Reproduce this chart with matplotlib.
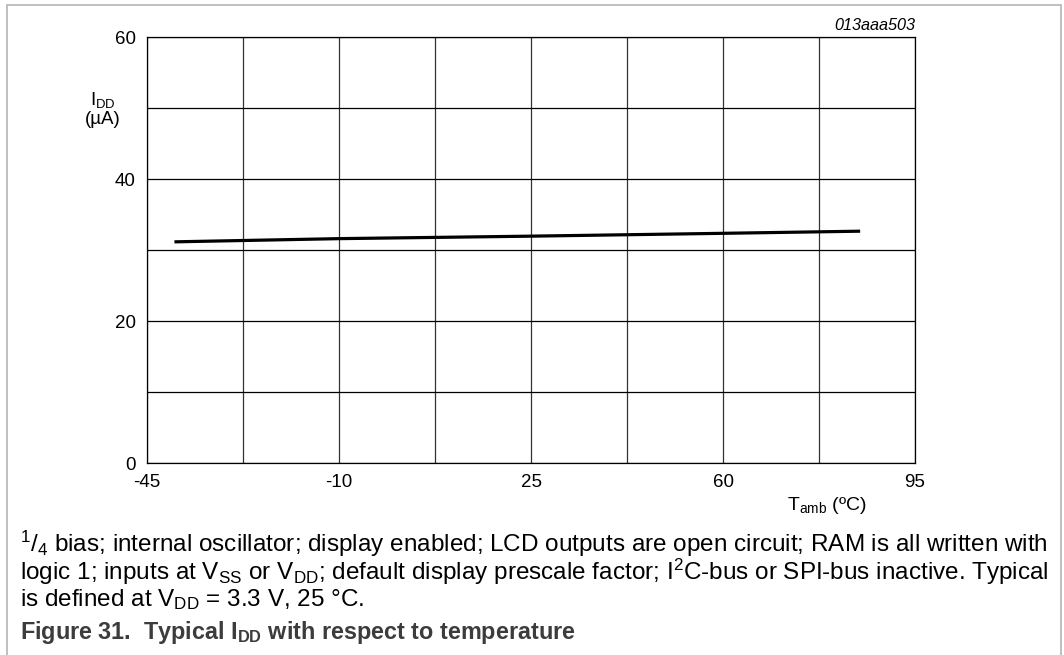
import matplotlib
matplotlib.use("Agg")
import matplotlib.pyplot as plt
from matplotlib.patches import Rectangle

plt.rcParams['font.family'] = ['Liberation Sans', 'DejaVu Sans']
plt.rcParams['mathtext.fontset'] = 'custom'
plt.rcParams['mathtext.rm'] = 'Liberation Sans'
plt.rcParams['mathtext.it'] = 'Liberation Sans:italic'
plt.rcParams['mathtext.bf'] = 'Liberation Sans:bold'

# data
temp_c = [-40, -10, 25, 60, 85]
idd_ua = [31.15, 31.6, 31.95, 32.35, 32.65]
x_ticks = [-45, -10, 25, 60, 95]
x_grid = [-45, -27.5, -10, 7.5, 25, 42.5, 60, 77.5, 95]
y_ticks = [0, 20, 40, 60]
y_grid = [0, 10, 20, 30, 40, 50, 60]

W, H = 1064, 655
fig = plt.figure(figsize=(W / 100, H / 100), dpi=100)

def fx(px):
    return px / W

def fy(py):
    return 1 - py / H

# outer frame
fig.patches.append(Rectangle((fx(7), fy(700)), fx(1061) - fx(7), fy(5) - fy(700),
                             transform=fig.transFigure, fill=False,
                             edgecolor='#b4b4b4', linewidth=1.2))

ax = fig.add_axes([fx(147), fy(463), fx(915) - fx(147), fy(37) - fy(463)])
ax.set_xlim(-45, 95)
ax.set_ylim(0, 60)
for gx in x_grid:
    ax.axvline(gx, color='#333333', linewidth=0.9, zorder=1)
for gy in y_grid:
    ax.axhline(gy, color='black', linewidth=0.9, zorder=1)
ax.plot(temp_c, idd_ua, color='black', linewidth=2.3, solid_capstyle='butt', zorder=3)

ax.set_xticks(x_ticks)
ax.set_xticklabels([str(v) for v in x_ticks])
ax.set_yticks(y_ticks)
ax.set_yticklabels([str(v) for v in y_ticks])
ax.tick_params(length=0, labelsize=13.5, colors='black')
ax.tick_params(axis='x', pad=8)
ax.tick_params(axis='y', pad=8)
for s in ax.spines.values():
    s.set_linewidth(0.9)
    s.set_color('black')

fig.text(fx(915), fy(26), '013aaa503', ha='right', va='center', fontsize=11.7,
         style='italic')
fig.text(fx(103), fy(100), r'I$_\mathregular{DD}$', ha='center', va='center', fontsize=13.5)
fig.text(fx(103), fy(120), '(µA)', ha='center', va='center', fontsize=13.5)
fig.text(fx(867), fy(505), r'T$_\mathregular{amb}$ (ºC)', ha='right', va='center', fontsize=14)

cap = [
    r'$^\mathregular{1}/_\mathregular{4}$ bias; internal oscillator; display enabled; LCD outputs are open circuit; RAM is all written with',
    r'logic 1; inputs at V$_\mathregular{SS}$ or V$_\mathregular{DD}$; default display prescale factor; I$^\mathregular{2}$C-bus or SPI-bus inactive. Typical',
    r'is defined at V$_\mathregular{DD}$ = 3.3 V, 25 °C.',
]
ys = [544, 572, 600]
for t, y in zip(cap, ys):
    fig.text(fx(20), fy(y), t, ha='left', va='center', fontsize=17.5)

fig.text(fx(20), fy(632), r'Figure 31.  Typical I$_\mathbf{DD}$ with respect to temperature',
         ha='left', va='center', fontsize=16.8, fontweight='bold', color='#3c3c3c')

fig.savefig('out.png', dpi=100)
